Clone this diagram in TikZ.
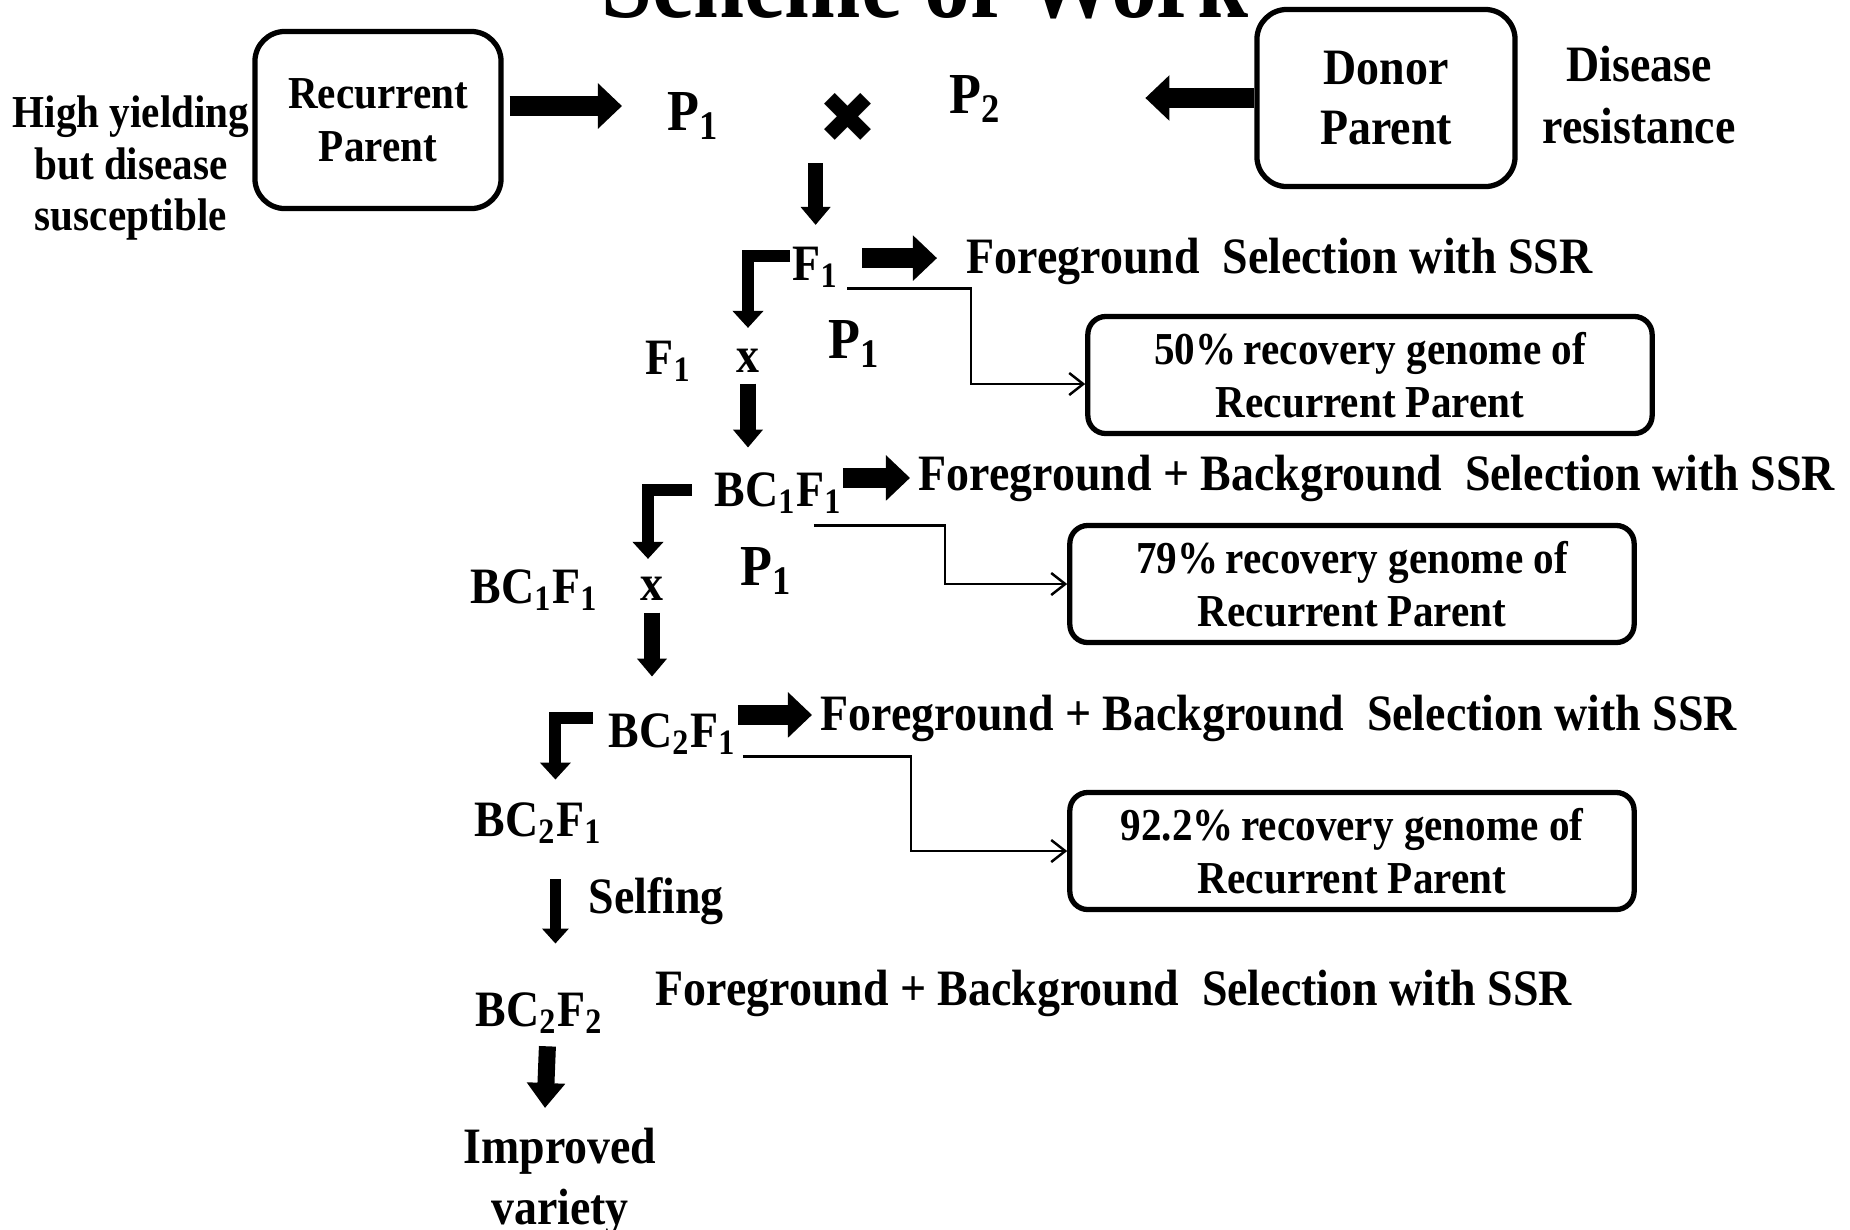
\documentclass[tikz,border=0pt]{standalone}
\usepackage{fontspec}
\setmainfont{Liberation Serif}[FakeStretch=0.9]
\newfontfamily\symfont{DejaVu Sans}
\usepackage{tikz}
\usetikzlibrary{arrows.meta,positioning,calc}
\newcommand\sbs[1]{\textsubscript{#1}}

\begin{document}
\begin{tikzpicture}[x=0.01cm, y=-0.01cm,
  lbl/.style={font=\bfseries\fontsize{14.5}{17.5}\selectfont, inner sep=0pt},
  sml/.style={font=\bfseries\fontsize{13}{14.6}\selectfont, inner sep=0pt, align=center},
  pbig/.style={font=\bfseries\fontsize{16.5}{18}\selectfont, inner sep=0pt},
  parentbox/.style={draw, line width=1.5pt, rounded corners=0.3cm, align=center, inner sep=0pt},
  recbox/.style={draw, line width=1.5pt, rounded corners=0.18cm, align=center, inner sep=0pt,
    minimum width=5.64cm, minimum height=1.17cm, font=\bfseries\fontsize{13}{15}\selectfont},
  fatarrow/.style={line width=0.2cm, -{Triangle[length=0.24cm, width=0.44cm]}},
  downarrow/.style={line width=0.15cm, -{Triangle[length=0.18cm, width=0.29cm]}},
  elbowarrow/.style={line width=0.12cm, line join=miter, -{Triangle[length=0.17cm, width=0.30cm]}},
  thinarrow/.style={line width=0.7pt, -{Straight Barb[length=0.14cm, width=0.22cm]}}]
\path[use as bounding box, clip] (0,0) rectangle (1850,1229);
\node[font=\bfseries\fontsize{29}{32}\selectfont, inner sep=0pt, anchor=base] (title) at (925,17) {Scheme of Work};
% parents
\node[parentbox, minimum width=2.46cm, minimum height=1.77cm, font=\bfseries\fontsize{13}{15}\selectfont] (rec) at (378,120) {Recurrent\\Parent};
\node[sml, anchor=east] (hy) at (250,168) {High yielding\\but disease\\susceptible};
\node[pbig, anchor=base west] (p1) at (667,130) {P\sbs{1}};
\node[font=\symfont\fontsize{20}{20}\selectfont, inner sep=0pt] (cross) at (848,118) {✖};
\node[pbig, anchor=base west] (p2) at (949,113) {P\sbs{2}};
\node[parentbox, minimum width=2.58cm, minimum height=1.77cm, font=\bfseries\fontsize{14.5}{17}\selectfont] (donor) at (1386,98) {Donor\\Parent};
\node[lbl, align=center, anchor=west] (dis) at (1542,95) {Disease\\resistance};
\draw[fatarrow] ($(rec.east)+(6,-14)$) -- ($(rec.east -| p1.west)+(-45,-14)$);
\draw[fatarrow] (donor.west) -- ($(donor.west -| p2.east)+(143,0)$);
% F1 row
\node[lbl, anchor=base west] (f1) at (792,280) {F\sbs{1}};
\node[lbl, anchor=base west] (fg1) at (966,273) {Foreground\ \ Selection with SSR};
\node[pbig, anchor=base west] (p1b) at (828,358) {P\sbs{1}};
\node[lbl, anchor=base west] (f1l) at (645,374) {F\sbs{1}};
\node[lbl, anchor=base] (x1) at (748,372) {x};
% BC1F1 row
\node[lbl, anchor=base west] (bc1) at (714,506) {BC\sbs{1}F\sbs{1}};
\node[lbl, anchor=base west] (fg2) at (918,490) {Foreground + Background\ \ Selection with SSR};
\node[pbig, anchor=base west] (p1c) at (740,585) {P\sbs{1}};
\node[lbl, anchor=base west] (bc1l) at (470,603) {BC\sbs{1}F\sbs{1}};
\node[lbl, anchor=base] (x2) at (652,600) {x};
% BC2F1 row
\node[lbl, anchor=base west] (bc2) at (608,747) {BC\sbs{2}F\sbs{1}};
\node[lbl, anchor=base west] (fg3) at (820,730) {Foreground + Background\ \ Selection with SSR};
\node[lbl, anchor=base west] (bc2l) at (474,836) {BC\sbs{2}F\sbs{1}};
\node[lbl, anchor=base west] (self) at (588,913) {Selfing};
\node[lbl, anchor=base west] (bc2f2) at (475,1026) {BC\sbs{2}F\sbs{2}};
\node[lbl, anchor=base west] (fg4) at (655,1005) {Foreground + Background\ \ Selection with SSR};
\node[lbl, align=center, anchor=north] (impr) at (560,1127) {Improved\\variety};
% recovery boxes
\foreach \name/\x/\y/\pct in {r50/1370/375/50, r79/1352/584/79, r92/1352/851/92.2} {
  \node[recbox] (\name) at (\x,\y) {\pct\%\,recovery genome of\\Recurrent Parent};
}
% crossing arrows
\draw[downarrow] ($(cross.south -| f1.north)+(0,20)$) -- ($(f1.north)+(0,-21)$);
\draw[elbowarrow] ($(f1.west)+(-2,-11)$) -| ($(x1.north)+(0,-20)$);
\draw[downarrow] ($(x1.south)+(0,11)$) -- ($(bc1.north -| x1.south)+(0,-24)$);
\draw[elbowarrow] ($(bc1.west)+(-22,-3)$) -| ($(x2.north)+(-4,-17)$);
\draw[downarrow] ($(x2.south)+(0,12)$) -- ($(bc2.north -| x2.south)+(0,-36)$);
\draw[elbowarrow] ($(bc2.west)+(-15,-16)$) -| ($(bc2l.north)+(17,-22)$);
\draw[line width=0.11cm, -{Triangle[length=0.15cm, width=0.26cm]}] ($(bc2l.south)+(17,35)$) -- ($(bc2f2.north)+(16,-48)$);
\draw[line width=0.17cm, -{Triangle[length=0.25cm, width=0.37cm]}] ($(bc2f2.south)+(8,12)$) -- ($(impr.north)+(-15,-19)$);
% selection arrows
\draw[fatarrow] ($(f1.east)+(23,-9)$) -- ($(fg1.west |- f1.east)+(-29,-9)$);
\draw[fatarrow] ($(bc1.east)+(0,-15)$) -- ($(fg2.west |- bc1.east)+(-8,-15)$);
\draw[fatarrow] ($(bc2.east)+(1,-19)$) -- ($(fg3.west |- bc2.east)+(-8,-19)$);
\draw[thinarrow] ($(f1.south east)+(8,0)$) -- ++(124,0) |- ($(r50.west)+(0,9)$);
\draw[thinarrow] ($(bc1.south east)+(-29,11)$) -- ++(131,0) |- (r79.west);
\draw[thinarrow] ($(bc2.south east)+(6,1)$) -- ++(168,0) |- (r92.west);
\end{tikzpicture}
\end{document}
